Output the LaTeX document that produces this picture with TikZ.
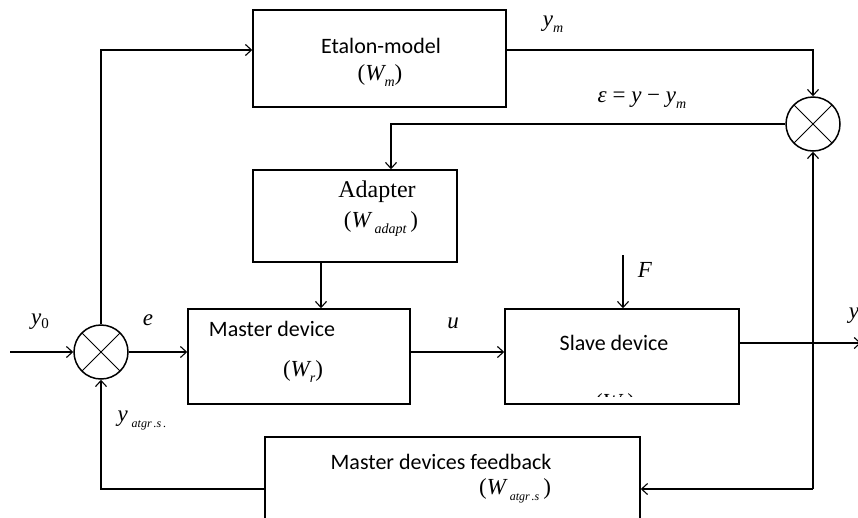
\documentclass[tikz,border=0pt]{standalone}
\usepackage{fontspec}
\setmainfont{Liberation Serif}
\newfontfamily\calfont{Carlito}
\usetikzlibrary{arrows.meta}
\newcommand\sbs[1]{\raisebox{-6pt}{\fontsize{14}{14}\selectfont\itshape #1}}
\newcommand\sbt[1]{\raisebox{-6pt}{\fontsize{12}{12}\selectfont\itshape #1}}
\tikzset{
  box/.style={draw, line width=1.5pt, inner sep=0pt},
  wire/.style={line width=1.1pt},
  arr/.style={wire, -{Straight Barb[length=6pt,width=11pt,line width=1.1pt]}},
  sumnode/.style={circle, draw, line width=1.5pt, minimum size=54pt, inner sep=0pt,
    path picture={\draw[line width=0.8pt]
      (path picture bounding box.north west)--(path picture bounding box.south east)
      (path picture bounding box.north east)--(path picture bounding box.south west);}},
  sans/.style={inner sep=0pt, font=\calfont\fontsize{22}{24}\selectfont},
  serif/.style={inner sep=0pt, font=\fontsize{24}{26}\selectfont},
  mth/.style={inner sep=0pt, font=\fontsize{23}{25}\selectfont\itshape},
}
\begin{document}
\begin{tikzpicture}[x=1pt,y=-1pt]
\clip (0,0) rectangle (858,517);
% boxes
\node[box, minimum width=253pt, minimum height=97pt] (etalon) at (379.5,58.5) {};
\node[box, minimum width=204pt, minimum height=92pt] (adapter) at (355,216) {};
\node[box, minimum width=222pt, minimum height=95pt] (master) at (299,356.5) {};
\node[box, minimum width=234pt, minimum height=95pt] (slave) at (622,356.5) {};
\node[box, minimum width=375pt, minimum height=120pt] (feedback) at (452.5,497) {};
% summing junctions
\node[sumnode] (s1) at (101,352) {};
\node[sumnode] (s2) at (813,124) {};
% box texts
\node[sans] (t-et) at (381,46) {Etalon-model};
\node[mth] (t-wm) at (380,76) {\upshape(\itshape W\sbs{m}\upshape)};
\node[serif] (t-ad) at (377,192) {Adapter};
\node[mth] (t-wad) at (381,224) {\upshape(\itshape W\,\sbs{adapt}\upshape\,)};
\node[sans] (t-ma) at (272,329) {Master device};
\node[mth] (t-wr) at (303,372) {\upshape(\itshape W\sbs{r}\upshape)};
\node[sans] (t-sl) at (614,343) {Slave device};
\begin{scope}
  \clip (506,310) rectangle (738,396);
  \node[mth] (t-ws) at (615,405) {\upshape(\itshape W\sbs{s}\upshape)};
\end{scope}
\node[sans] (t-fb) at (441,462) {Master devices feedback};
\node[mth] (t-wfb) at (515,491) {\upshape(\itshape W\,\sbt{atgr\,.s}\upshape\,)};
% signal labels
\node[mth] (l-ym) at (553,24) {y\sbs{m}};
\node[mth] (l-eps) at (642,100) {ε \upshape= \itshape y \upshape− \itshape y\sbs{m}};
\node[mth] (l-y0) at (40,322) {y\raisebox{-4pt}{\fontsize{15}{15}\selectfont\upshape 0}};
\node[mth] (l-e) at (148,320) {e};
\node[mth] (l-u) at (453,323) {u};
\node[mth] (l-F) at (645,270) {F};
\node[mth] (l-y) at (854,316) {y};
\node[mth] (l-ya) at (142,420) {y\,\sbt{atgr\,.s\,.}};
% coordinates
\coordinate (in) at (10,352);
\coordinate (ly) at (0,50);
\coordinate (ax) at (391,0);
\coordinate (mx) at (321,0);
\coordinate (Ft) at (623,255);
\coordinate (oy) at (0,343);
\coordinate (out) at (861,343);
\coordinate (br) at (813,489);
% connectors
\draw[arr] (in) -- (s1.west);
\draw[arr] (s1.east) -- (s1.east -| master.west);
\draw[arr] (s1.north) |- (etalon.west |- ly);
\draw[arr] (etalon.east |- ly) -| (s2.north);
\draw[arr] (s2.west) -| (ax |- adapter.north);
\draw[arr] (mx |- adapter.south) -- (mx |- master.north);
\draw[arr] (master.east |- s1) -- (slave.west |- s1);
\draw[arr] (Ft) -- (Ft |- slave.north);
\draw[arr] (slave.east |- oy) -- (out);
\draw[arr] (br) -- (s2.south);
\draw[arr] (br) -- (feedback.east |- br);
\draw[arr] (feedback.west |- br) -| (s1.south);
\end{tikzpicture}
\end{document}
